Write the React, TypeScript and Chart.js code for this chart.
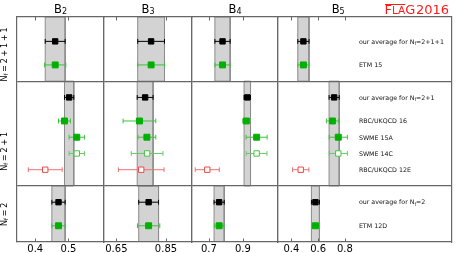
import React, { useEffect, useRef } from 'react';
import { Chart, registerables } from 'chart.js';

Chart.register(...registerables);

// ---------------- data ----------------
const panelLetter = 'B';
const panelSubs = ['2', '3', '4', '5'];
const rowFlavours = ['2+1+1', '2+1', '2'];

const entryLabels = [
  'our average for N_f=2+1+1',
  'ETM 15',
  'our average for N_f=2+1',
  'RBC/UKQCD 16',
  'SWME 15A',
  'SWME 14C',
  'RBC/UKQCD 12E',
  'our average for N_f=2',
  'ETM 12D',
];
const entryRow = [0, 0, 1, 1, 1, 1, 1, 2, 2];
const entryKind = ['avg', 'in', 'avg', 'in', 'in', 'open', 'out', 'avg', 'in'];

const B2_values = [0.46, 0.46, 0.502, 0.488, 0.525, 0.525, 0.43, 0.47, 0.47];
const B2_errors = [0.03, 0.032, 0.014, 0.018, 0.023, 0.023, 0.051, 0.02, 0.02];
const B3_values = [0.79, 0.79, 0.766, 0.743, 0.773, 0.774, 0.75, 0.78, 0.78];
const B3_errors = [0.054, 0.054, 0.032, 0.066, 0.036, 0.064, 0.092, 0.04, 0.045];
const B4_values = [0.78, 0.78, 0.926, 0.92, 0.981, 0.981, 0.69, 0.76, 0.76];
const B4_errors = [0.045, 0.045, 0.019, 0.02, 0.062, 0.061, 0.071, 0.03, 0.028];
const B5_values = [0.49, 0.49, 0.72, 0.707, 0.751, 0.751, 0.47, 0.58, 0.58];
const B5_errors = [0.042, 0.042, 0.038, 0.045, 0.068, 0.068, 0.061, 0.03, 0.028];

const B2_tickLabels = ['0.4', '0.5'];
const B3_tickLabels = ['0.65', '0.85'];
const B4_tickLabels = ['0.7', '0.9'];
const B5_tickLabels = ['0.4', '0.6', '0.8'];

const B2_limits = [0.345, 0.607];
const B3_limits = [0.6, 0.955];
const B4_limits = [0.6, 1.107];
const B5_limits = [0.3, 1.6];

const logoText = 'FLAG2016';

// ---------------- layout / style ----------------
const W = 457;
const H = 253;
const PANEL_EDGES = [17, 104, 192, 278, 452];
const PLOT_TOP = 17;
const AXIS_H = 11;
const FONT = 'DejaVu Sans';
const FRAME = '#676767';
const BAND_FILL = '#d3d3d3';
const BAND_EDGE = '#8c8c8c';

const ROW_TOP_PAD = [1.5, 1, 1];
const AVG_GAP = 1.45;
const STEP = 1;
const BOTTOM_PAD = 1;
const ROW_TITLE_Y = [2.31, 8.27, 12.14];
const LABEL_X_VALUE = 0.905;
const B5_TITLE_VALUE = 0.75;

const KIND_STYLE: Record<string, { fill: string; edge: string; bar: string; r: number }> = {
  avg: { fill: '#000000', edge: '#000000', bar: '#000000', r: 3.8 },
  in: { fill: '#00b000', edge: '#00b000', bar: '#3fc03f', r: 4.2 },
  open: { fill: '#ffffff', edge: '#45c445', bar: '#62cd62', r: 3.8 },
  out: { fill: '#ffffff', edge: '#f04848', bar: '#f27070', r: 3.8 },
};

const PANEL_VALUES = [B2_values, B3_values, B4_values, B5_values];
const PANEL_ERRORS = [B2_errors, B3_errors, B4_errors, B5_errors];
const PANEL_TICKS = [B2_tickLabels, B3_tickLabels, B4_tickLabels, B5_tickLabels];
const PANEL_LIMITS = [B2_limits, B3_limits, B4_limits, B5_limits];

// y layout computed from the row structure
const entryY: number[] = [];
const rowBounds: [number, number][] = [];
let cursor = 0;
rowFlavours.forEach((_, r) => {
  const top = cursor;
  const idx = entryRow.map((rr, i) => (rr === r ? i : -1)).filter((i) => i >= 0);
  let y = top + ROW_TOP_PAD[r];
  idx.forEach((i, k) => {
    if (k === 1) y += AVG_GAP;
    else if (k > 1) y += STEP;
    entryY[i] = y;
  });
  cursor = y + BOTTOM_PAD;
  rowBounds.push([top, cursor]);
});
const Y_MAX = cursor;

type Part = { t: string; size: number; dy?: number; gap?: number };

function drawParts(ctx: CanvasRenderingContext2D, parts: Part[], x: number, y: number, align: string, color: string) {
  let total = 0;
  const widths = parts.map((p) => {
    ctx.font = `${p.size}px "${FONT}"`;
    const w = ctx.measureText(p.t).width + 2 * (p.gap || 0);
    total += w;
    return w;
  });
  let cx = align === 'left' ? x : align === 'center' ? x - total / 2 : x - total;
  ctx.fillStyle = color;
  ctx.textAlign = 'left';
  ctx.textBaseline = 'alphabetic';
  parts.forEach((p, i) => {
    ctx.font = `${p.size}px "${FONT}"`;
    ctx.fillText(p.t, cx + (p.gap || 0), y + (p.dy || 0));
    cx += widths[i];
  });
  return total;
}

function nfParts(text: string, size: number, subSize: number, subDy: number, opGap: number): Part[] {
  const k = text.indexOf('N_f');
  if (k < 0) return [{ t: text, size }];
  const parts: Part[] = [];
  if (k > 0) parts.push({ t: text.slice(0, k + 1).replace('_', ''), size });
  else parts.push({ t: 'N', size });
  parts.push({ t: 'f', size: subSize, dy: subDy });
  const rest = text.slice(k + 3);
  for (const ch of rest) {
    if (ch === '=' || ch === '+') parts.push({ t: ch, size, gap: opGap });
    else parts.push({ t: ch, size });
  }
  return parts;
}

function makeConfig(p: number): any {
  const values = PANEL_VALUES[p];
  const errors = PANEL_ERRORS[p];
  const tickLabels = PANEL_TICKS[p];
  const [xmin, xmax] = PANEL_LIMITS[p];
  const datasets: any[] = [];

  rowFlavours.forEach((_, r) => {
    const ai = entryRow.findIndex((rr, i) => rr === r && entryKind[i] === 'avg');
    const lo = values[ai] - errors[ai];
    const hi = values[ai] + errors[ai];
    const [t, b] = rowBounds[r];
    datasets.push({
      showLine: true,
      fill: 'shape',
      data: [
        { x: lo, y: t },
        { x: hi, y: t },
        { x: hi, y: b },
        { x: lo, y: b },
        { x: lo, y: t },
      ],
      backgroundColor: BAND_FILL,
      borderColor: BAND_EDGE,
      borderWidth: 1,
      pointRadius: 0,
      pointHoverRadius: 0,
      order: 3,
    });
  });

  entryLabels.forEach((_, i) => {
    const st = KIND_STYLE[entryKind[i]];
    const y = entryY[i];
    datasets.push({
      showLine: true,
      data: [
        { x: values[i] - errors[i], y },
        { x: values[i] + errors[i], y },
      ],
      borderColor: st.bar,
      borderWidth: 1,
      pointStyle: 'line',
      pointRotation: 90,
      pointRadius: 2.4,
      pointHoverRadius: 2.4,
      pointBorderColor: st.bar,
      pointBorderWidth: 1,
      order: 2,
    });
  });

  entryLabels.forEach((_, i) => {
    const st = KIND_STYLE[entryKind[i]];
    datasets.push({
      data: [{ x: values[i], y: entryY[i] }],
      pointStyle: 'rect',
      pointRadius: st.r,
      pointHoverRadius: st.r,
      pointBackgroundColor: st.fill,
      pointBorderColor: st.edge,
      pointBorderWidth: 1,
      order: 1,
    });
  });

  const decor = {
    id: 'decor' + p,
    afterDraw(chart: any) {
      const ctx: CanvasRenderingContext2D = chart.ctx;
      const xs = chart.scales.x;
      const ys = chart.scales.y;
      const { top, bottom, left, right } = chart.chartArea;
      ctx.save();
      // inward tick marks
      ctx.strokeStyle = FRAME;
      ctx.lineWidth = 1;
      ctx.beginPath();
      xs.ticks.forEach((t: any) => {
        const px = Math.round(xs.getPixelForValue(t.value)) + 0.5;
        ctx.moveTo(px, bottom);
        ctx.lineTo(px, bottom - 3.5);
        ctx.moveTo(px, top);
        ctx.lineTo(px, top + 3.5);
      });
      ctx.stroke();

      // panel title
      const tx = p === 3 ? xs.getPixelForValue(B5_TITLE_VALUE) : (left + right) / 2;
      drawParts(
        ctx,
        [
          { t: panelLetter, size: 11.5 },
          { t: panelSubs[p], size: 8, dy: 1.5 },
        ],
        tx,
        12.7,
        'center',
        '#000'
      );

      if (p === 0) {
        rowFlavours.forEach((fl, r) => {
          const cy = ys.getPixelForValue(ROW_TITLE_Y[r]);
          ctx.save();
          ctx.translate(6.8, cy);
          ctx.rotate(-Math.PI / 2);
          drawParts(ctx, nfParts('N_f=' + fl, 8, 5.6, 1.6, 1.8), 0, 0, 'center', '#000');
          ctx.restore();
        });
      }

      if (p === 3) {
        const lx = xs.getPixelForValue(LABEL_X_VALUE);
        entryLabels.forEach((lab, i) => {
          const py = ys.getPixelForValue(entryY[i]);
          drawParts(ctx, nfParts(lab, 6.3, 4.5, 1.3, 0), lx, py + 2.3, 'left', '#111');
        });
        // FLAG logo
        const red = '#ff1a1a';
        const big = 13;
        const small = 10.5;
        const logoParts: Part[] = [
          { t: logoText.slice(0, 1), size: big },
          { t: logoText.slice(1, 3), size: small },
          { t: logoText.slice(3, 4), size: big },
          { t: logoText.slice(4), size: big, gap: 0.6 },
        ];
        const x0 = 384.5;
        ctx.font = `${big}px "${FONT}"`;
        const wF = ctx.measureText(logoParts[0].t).width;
        ctx.font = `${small}px "${FONT}"`;
        const wLA = ctx.measureText(logoParts[1].t).width;
        drawParts(ctx, logoParts, x0, 14, 'left', red);
        ctx.strokeStyle = red;
        ctx.lineWidth = 1;
        ctx.beginPath();
        ctx.moveTo(x0 + 0.5, 4.5);
        ctx.lineTo(x0 + wF + wLA, 4.5);
        ctx.stroke();
      }
      ctx.restore();
    },
  };

  const common = { min: xmin, max: xmax, type: 'linear' };
  return {
    type: 'scatter',
    data: { datasets },
    plugins: [decor],
    options: {
      animation: false,
      responsive: false,
      devicePixelRatio: 1,
      events: [],
      layout: {
        padding: { left: PANEL_EDGES[p], right: W - PANEL_EDGES[p + 1], top: PLOT_TOP, bottom: 0 },
      },
      plugins: { legend: { display: false }, tooltip: { enabled: false }, title: { display: false } },
      scales: {
        x: {
          ...common,
          position: 'bottom',
          afterBuildTicks: (s: any) => {
            s.ticks = tickLabels.map((l) => ({ value: parseFloat(l) }));
          },
          afterFit: (s: any) => {
            s.height = AXIS_H;
          },
          grid: { display: false, drawTicks: false, z: 1 },
          border: { display: true, color: FRAME, width: 1.2, z: 1 },
          ticks: {
            autoSkip: false,
            maxRotation: 0,
            padding: 1.5,
            color: '#000',
            font: { family: FONT, size: 10 },
            callback: (v: number) => {
              const m = tickLabels.find((l) => Math.abs(parseFloat(l) - v) < 1e-9);
              return m ?? '';
            },
          },
        },
        xTop: {
          ...common,
          position: 'top',
          afterFit: (s: any) => {
            s.height = 0;
          },
          grid: { display: false, drawTicks: false, z: 1 },
          border: { display: true, color: FRAME, width: 1.2, z: 1 },
          ticks: { display: false },
        },
        y: {
          type: 'linear',
          position: 'left',
          reverse: true,
          min: 0,
          max: Y_MAX,
          afterBuildTicks: (s: any) => {
            s.ticks = rowBounds.slice(0, -1).map((b) => ({ value: b[1] }));
          },
          afterFit: (s: any) => {
            s.width = 0;
          },
          grid: { display: true, drawTicks: false, color: FRAME, lineWidth: 1.2, z: 1 },
          border: { display: true, color: FRAME, width: 1.2, z: 1 },
          ticks: { display: false },
        },
        yRight: {
          type: 'linear',
          position: 'right',
          reverse: true,
          min: 0,
          max: Y_MAX,
          afterFit: (s: any) => {
            s.width = 0;
          },
          grid: { display: false, drawTicks: false, z: 1 },
          border: { display: true, color: FRAME, width: 1.2, z: 1 },
          ticks: { display: false },
        },
      },
    },
  };
}

export default function App() {
  const refs = useRef<(HTMLCanvasElement | null)[]>([]);
  useEffect(() => {
    Chart.defaults.font.family = FONT;
    const charts = panelSubs.map((_, p) => new Chart(refs.current[p] as HTMLCanvasElement, makeConfig(p)));
    return () => charts.forEach((c) => c.destroy());
  }, []);
  return (
    <div style={{ position: 'fixed', left: 0, top: 0, width: W, height: H, background: '#ffffff', overflow: 'hidden' }}>
      {panelSubs.map((s, p) => (
        <canvas
          key={s}
          ref={(el) => {
            refs.current[p] = el;
          }}
          width={W}
          height={H}
          style={{ position: 'absolute', left: 0, top: 0, width: W, height: H }}
        />
      ))}
    </div>
  );
}
